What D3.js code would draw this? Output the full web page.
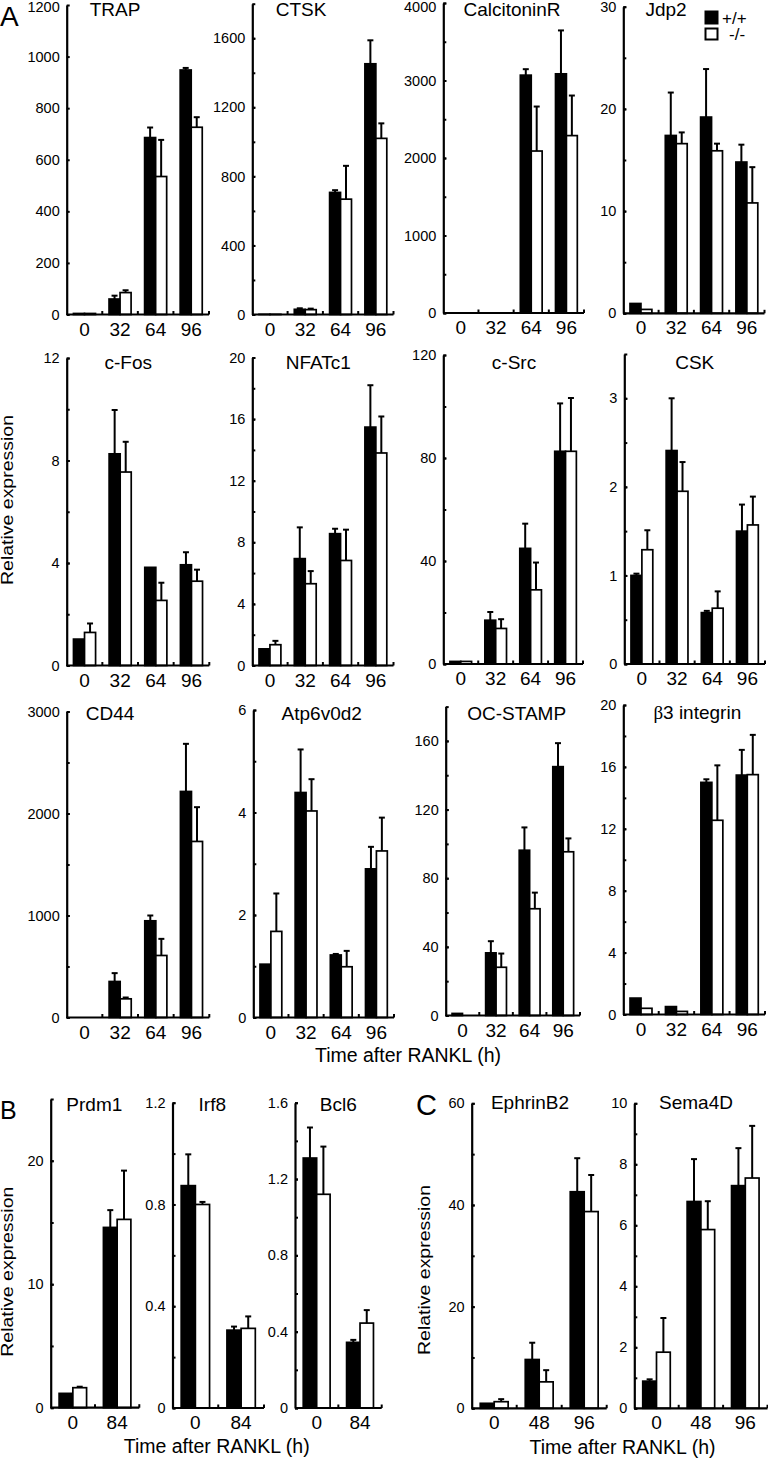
<!DOCTYPE html>
<html><head><meta charset="utf-8">
<script src="https://cdn.jsdelivr.net/npm/d3@7"></script>
<style>
body{margin:0;background:#fff}
svg{display:block}
text{font-family:"Liberation Sans",Arial,Helvetica,sans-serif;fill:#000}
</style>
</head><body><div id="chart"></div>
<script>
// ---------- DATA ----------
const timesA = ["0", "32", "64", "96"];
const timesB = ["0", "84"];
const timesC = ["0", "48", "96"];

const genes = ["TRAP", "CTSK", "CalcitoninR", "Jdp2",
               "c-Fos", "NFATc1", "c-Src", "CSK",
               "CD44", "Atp6v0d2", "OC-STAMP", "β3 integrin",
               "Prdm1", "Irf8", "Bcl6",
               "EphrinB2", "Sema4D"];
const panelTimes = [timesA, timesA, timesA, timesA,
                    timesA, timesA, timesA, timesA,
                    timesA, timesA, timesA, timesA,
                    timesB, timesB, timesB,
                    timesC, timesC];

const yMax   = [1200, 1800, 4000, 30, 12, 20, 120, 3.5, 3000, 6, 180, 20, 25, 1.2, 1.6, 60, 10];
const yMajor = [200, 400, 1000, 10, 4, 4, 40, 1, 1000, 2, 40, 4, 10, 0.4, 0.4, 20, 2];
const yMinor = [0, 200, 500, 5, 2, 2, 20, 0.5, 500, 1, 20, 2, 5, 0.2, 0.2, 10, 1];

// +/+ (wild type) means and SD
const wtMean = [
  [4, 60, 686, 948], [1, 30, 707, 1452], [0, 0, 3069, 3086], [0.96, 17.4, 19.2, 14.8],
  [1.03, 8.26, 3.83, 3.93], [1.08, 6.94, 8.56, 15.48], [1, 17, 44.9, 82.6], [1.0, 2.41, 0.58, 1.5],
  [0, 353, 948, 2216], [1.04, 4.39, 1.22, 2.9], [1.2, 36.5, 96.3, 145], [1.06, 0.51, 15.0, 15.47],
  [1.16, 14.6], [0.874, 0.306], [1.31, 0.344],
  [0.98, 9.6, 42.6], [0.89, 6.78, 7.3]
];
const wtSD = [
  [0, 13, 39, 8], [0, 6, 13, 136], [0, 0, 77, 560], [0, 4.2, 4.7, 1.7],
  [0, 1.71, 0, 0.49], [0, 2.03, 0.32, 2.72], [0, 3.2, 9.6, 18.6], [0.02, 0.59, 0.02, 0.3],
  [0, 82, 52, 467], [0, 0.84, 0.02, 0.43], [0, 6.8, 13.3, 13.7], [0, 0, 0.2, 1.63],
  [0, 1.4], [0.123, 0.014], [0.16, 0.013],
  [0, 3.3, 6.6], [0.06, 1.39, 1.23]
];
// -/- (knockout) means and SD
const koMean = [
  [4, 85, 535, 726], [1, 28, 668, 1020], [0, 0, 2090, 2289], [0.38, 16.6, 15.9, 10.8],
  [1.29, 7.55, 2.54, 3.29], [1.35, 5.31, 6.82, 13.8], [1, 13.8, 28.8, 82.6], [1.29, 1.95, 0.63, 1.57],
  [0, 183, 608, 1726], [1.68, 4.03, 0.99, 3.25], [0, 28.1, 62.2, 95.4], [0.4, 0.2, 12.55, 15.5],
  [1.62, 15.25], [0.80, 0.313], [1.12, 0.445],
  [1.3, 5.2, 38.7], [1.84, 5.86, 7.55]
];
const koSD = [
  [0, 9, 142, 39], [0, 6, 193, 87], [0, 0, 574, 517], [0, 1.1, 0.7, 3.5],
  [0.35, 1.18, 0.69, 0.45], [0.25, 0.82, 2.0, 2.37], [0, 3.6, 10.6, 20.7], [0.22, 0.33, 0.19, 0.32],
  [0, 13, 163, 336], [0.74, 0.62, 0.31, 0.65], [0, 8.0, 9.4, 7.8], [0, 0, 3.55, 2.57],
  [0.08, 3.95], [0.01, 0.047], [0.25, 0.068],
  [0.5, 2.3, 7.2], [1.12, 0.93, 1.71]
];
const seriesNames = ["+/+", "-/-"];
const axisTitle = "Time after RANKL (h)";
const yTitle = "Relative expression";

// ---------- LAYOUT (pixels) ----------
// [x of y-axis, right end of x-axis, y of max, y of zero]
const panelBox = [
  [66.7, 209, 5, 314.5], [252.3, 393.5, 3.7, 314.5], [443.3, 584, 3, 313], [623.3, 764.5, 6.7, 313.3],
  [66.7, 209.3, 358, 665.5], [252.3, 393.5, 357.5, 665.5], [443.3, 583, 355, 664], [624.3, 765, 354, 664],
  [66.7, 209.3, 711.5, 1017.5], [253.3, 394, 710, 1017.5], [445.7, 580, 706.6, 1015.5], [623.3, 765, 705, 1014.5],
  [50.7, 139.3, 1099, 1407.7], [172.5, 264, 1102.7, 1408], [295, 381.7, 1102.7, 1408],
  [471.7, 606.7, 1103.3, 1408.3], [634.3, 767.5, 1103.3, 1408.3]
];
const titlePos = [
  [115, 15.5], [301, 15.5], [512, 15.5], [666, 15.5],
  [128.3, 368.5], [318.3, 368.5], [514, 368.5], [694.7, 368.5],
  [110, 719.5], [321.7, 719.5], [516.7, 719.5], [697.3, 718.5],
  [94.3, 1110.5], [212.3, 1110.5], [338.3, 1110.5],
  [530, 1109], [696, 1109]
];

const FONT = '"Liberation Sans",Arial,Helvetica,sans-serif';
const svg = d3.select("#chart").append("svg").attr("width", 768).attr("height", 1460);
svg.append("rect").attr("width", 768).attr("height", 1460).attr("fill", "#fff");
const fmt = d3.format("~g");

genes.forEach((gene, i) => {
  const [L, R, T, B] = panelBox[i];
  const times = panelTimes[i];
  const g = svg.append("g");
  const x = d3.scaleBand().domain(times).range([L, R]).paddingInner(0.38).paddingOuter(0.19);
  const xs = d3.scaleBand().domain(seriesNames).range([0, x.bandwidth()]);
  const y = d3.scaleLinear().domain([0, yMax[i]]).range([B, T]);

  const series = [
    {name: "+/+", M: wtMean, S: wtSD, fill: "#000"},
    {name: "-/-", M: koMean, S: koSD, fill: "#fff"}
  ];
  series.forEach(s => {
    times.forEach((t, j) => {
      const v = s.M[i][j];
      const bx = x(t) + xs(s.name), bw = xs.bandwidth();
      if (v > 0) {
        g.append("rect").attr("x", bx).attr("y", y(v)).attr("width", bw)
          .attr("height", B - y(v)).attr("fill", s.fill)
          .attr("stroke", "#000").attr("stroke-width", 1.7);
      }
    });
  });
  series.forEach(s => {
    times.forEach((t, j) => {
      const v = s.M[i][j], sd = s.S[i][j];
      if (sd > 0) {
        const cx = x(t) + xs(s.name) + xs.bandwidth() / 2;
        g.append("line").attr("x1", cx).attr("x2", cx).attr("y1", y(v)).attr("y2", y(v + sd))
          .attr("stroke", "#000").attr("stroke-width", 2);
        g.append("line").attr("x1", cx - 3).attr("x2", cx + 3).attr("y1", y(v + sd)).attr("y2", y(v + sd))
          .attr("stroke", "#000").attr("stroke-width", 2);
      }
    });
  });

  // y axis
  const major = d3.range(0, yMax[i] + 1e-9, yMajor[i]);
  const ya = g.append("g").attr("transform", `translate(${L},0)`)
    .call(d3.axisLeft(y).tickValues(major).tickFormat(fmt).tickSize(-3).tickSizeOuter(0).tickPadding(7));
  ya.attr("font-size", 14.5).attr("font-family", FONT);
  ya.select(".domain").attr("stroke-width", 2.2);
  ya.selectAll(".tick line").attr("stroke-width", 2);
  ya.selectAll(".tick").each(function(d) {
    const py = y(d);
    if (py < 7) d3.select(this).select("text").attr("y", 7 - py);
  });
  if (yMinor[i] > 0) {
    const minor = d3.range(0, yMax[i] + 1e-9, yMinor[i]);
    const ym = g.append("g").attr("transform", `translate(${L},0)`)
      .call(d3.axisLeft(y).tickValues(minor).tickFormat("").tickSize(-3).tickSizeOuter(0));
    ym.select(".domain").remove();
    ym.selectAll(".tick line").attr("stroke-width", 2);
  }

  // x axis
  g.append("line").attr("x1", L).attr("x2", R).attr("y1", B).attr("y2", B)
    .attr("stroke", "#000").attr("stroke-width", 2.2);
  times.forEach(t => {
    const bx = x(t) + x.bandwidth() + (x.step() - x.bandwidth()) / 2;
    g.append("line").attr("x1", bx).attr("x2", bx).attr("y1", B).attr("y2", B - 3.5)
      .attr("stroke", "#000").attr("stroke-width", 2);
    g.append("text").attr("x", x(t) + x.bandwidth() / 2).attr("y", B + 21)
      .attr("text-anchor", "middle").attr("font-size", 19).text(t);
  });

  // title
  const tt = g.append("text").attr("x", titlePos[i][0]).attr("y", titlePos[i][1])
    .attr("text-anchor", "middle").attr("font-size", 19);
  if (gene.startsWith("β")) {
    tt.append("tspan").attr("font-family", '"Liberation Serif","DejaVu Serif",serif').text("β");
    tt.append("tspan").text(gene.slice(1));
  } else tt.text(gene);
});

// axis titles
[[408, 1062], [216.7, 1453], [622.5, 1454]].forEach(([ax, ay]) => {
  svg.append("text").attr("x", ax).attr("y", ay).attr("text-anchor", "middle")
    .attr("font-size", 19.5).text(axisTitle);
});
[[12.5, 500], [12.5, 1271.7], [430, 1270]].forEach(([ax, ay]) => {
  svg.append("text").attr("transform", `translate(${ax},${ay}) rotate(-90)`)
    .attr("text-anchor", "middle").attr("font-size", 16)
    .attr("textLength", 170).attr("lengthAdjust", "spacingAndGlyphs").text(yTitle);
});

// panel letters
svg.append("text").attr("x", 0).attr("y", 25.5).attr("font-size", 28).text("A");
svg.append("text").attr("x", 0).attr("y", 1119).attr("font-size", 25).text("B");
svg.append("text").attr("x", 416).attr("y", 1115).attr("font-size", 29).text("C");

// legend
svg.append("rect").attr("x", 704.5).attr("y", 10.5).attr("width", 14).attr("height", 14).attr("fill", "#000");
svg.append("rect").attr("x", 705.5).attr("y", 28.5).attr("width", 12).attr("height", 11)
  .attr("fill", "#fff").attr("stroke", "#000").attr("stroke-width", 2);
svg.append("text").attr("x", 722).attr("y", 23.5).attr("font-size", 17).text(seriesNames[0]);
svg.append("text").attr("x", 729).attr("y", 40).attr("font-size", 17).text(seriesNames[1]);
</script>
</body></html>
